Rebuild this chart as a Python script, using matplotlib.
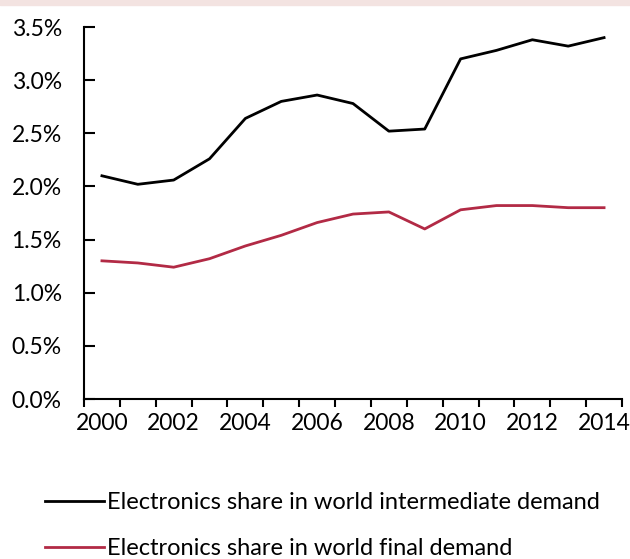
import matplotlib.pyplot as plt
import numpy as np
from matplotlib.patches import Rectangle

plt.rcParams['font.family'] = ['Lato', 'DejaVu Sans']

years = list(range(2000, 2015))
intermediate = [2.10, 2.02, 2.06, 2.26, 2.64, 2.80, 2.86, 2.78, 2.52, 2.54,
                3.20, 3.28, 3.38, 3.32, 3.40]
final = [1.30, 1.28, 1.24, 1.32, 1.44, 1.54, 1.66, 1.74, 1.76, 1.60,
         1.78, 1.82, 1.82, 1.80, 1.80]
yticks = [0.0, 0.5, 1.0, 1.5, 2.0, 2.5, 3.0, 3.5]

W, H = 630, 559
fig = plt.figure(figsize=(W / 100, H / 100), dpi=100)
fig.patches.append(Rectangle((0, 1 - 5 / H), 1, 5 / H, transform=fig.transFigure,
                             color='#F3E3E1', zorder=0))

ax = fig.add_axes([84 / W, 1 - 399 / H, (622 - 84) / W, (399 - 27) / H])
x = np.arange(len(years))
ax.plot(x, intermediate, color='black', lw=2.0,
        label='Electronics share in world intermediate demand')
ax.plot(x, final, color='#B22A45', lw=2.0,
        label='Electronics share in world final demand')

ax.set_xlim(-0.5, len(years) - 0.5)
ax.set_ylim(0, 3.5)

# category boundaries get the tick marks, every other year gets a label
ax.set_xticks(np.arange(-0.5, len(years)))
ax.set_xticklabels([])
ax.set_xticks(x[::2], minor=True)
ax.set_xticklabels([str(y) for y in years[::2]], minor=True)
ax.tick_params(axis='x', which='major', direction='out', length=6, width=1.5)
ax.tick_params(axis='x', which='minor', length=0, pad=10, labelsize=16.5)

ax.set_yticks(yticks)
ax.set_yticklabels([f'{v:.1f}%' for v in yticks])
ax.tick_params(axis='y', direction='in', length=8, width=1.5, pad=16, labelsize=16.5)

for s in ['top', 'right']:
    ax.spines[s].set_visible(False)
for s in ['left', 'bottom']:
    ax.spines[s].set_linewidth(1.5)

fig.legend(loc='upper left', bbox_to_anchor=(24 / W, 1 - 471 / H), frameon=False,
           fontsize=17, handlelength=2.5, handletextpad=0.1, labelspacing=1.05)

fig.savefig('out.png', dpi=100)
